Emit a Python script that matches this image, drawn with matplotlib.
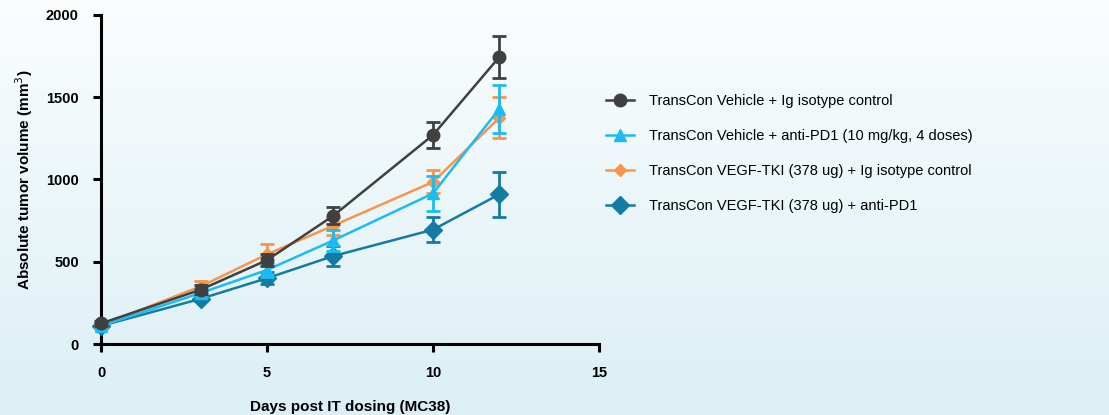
import matplotlib
matplotlib.use('Agg')
import matplotlib.pyplot as plt
from matplotlib.lines import Line2D
from matplotlib.colors import LinearSegmentedColormap
import numpy as np

plt.rcParams['font.family'] = ['Liberation Sans', 'DejaVu Sans']

days = [0, 3, 5, 7, 10, 12]
labels = ['TransCon Vehicle + Ig isotype control',
          'TransCon Vehicle + anti-PD1 (10 mg/kg, 4 doses)',
          'TransCon VEGF-TKI (378 ug) + Ig isotype control',
          'TransCon VEGF-TKI (378 ug) + anti-PD1']
veh_ig = [125, 330, 510, 780, 1270, 1745]
veh_ig_err = [15, 28, 35, 50, 80, 128]
veh_pd1 = [110, 310, 450, 630, 915, 1430]
veh_pd1_err = [12, 25, 40, 65, 105, 145]
tki_ig = [115, 350, 545, 720, 985, 1375]
tki_ig_err = [12, 35, 60, 55, 70, 125]
tki_pd1 = [110, 275, 400, 535, 695, 910]
tki_pd1_err = [10, 15, 35, 60, 75, 135]

colors = ['#404040', '#1cbcf2', '#f7964b', '#147ca3']
markers = ['o', '^', 'D', 'D']
msizes = [9, 9, 6.5, 9]

fig = plt.figure(figsize=(11.09, 4.15), dpi=100)
# fondo en degradado
bg = fig.add_axes([0, 0, 1, 1], zorder=-10)
grad = np.linspace(0, 1, 256).reshape(-1, 1)
cm = LinearSegmentedColormap.from_list('bg', ['#fbfdfe', '#dbeff5'])
bg.imshow(grad, aspect='auto', cmap=cm, extent=[0, 1, 0, 1])
bg.axis('off')

ax = fig.add_axes([0.0911, 0.171, 0.449, 0.793])
ax.patch.set_alpha(0)

series = [(veh_ig, veh_ig_err), (veh_pd1, veh_pd1_err), (tki_ig, tki_ig_err), (tki_pd1, tki_pd1_err)]
zord = [6, 5, 4, 3]
for i, (y, e) in enumerate(series):
    ax.errorbar(days, y, yerr=e, color=colors[i], marker=markers[i], ms=msizes[i],
                lw=1.8, elinewidth=2, capsize=5, capthick=2, zorder=zord[i], clip_on=False)

ax.set_xlim(0, 15)
ax.set_ylim(0, 2000)
ax.set_xticks([0, 5, 10, 15])
ax.set_yticks([0, 500, 1000, 1500, 2000])
ax.spines['top'].set_visible(False)
ax.spines['right'].set_visible(False)
for s in ['left', 'bottom']:
    ax.spines[s].set_linewidth(2.2)
ax.tick_params(width=2.2, length=6, labelsize=10.5, pad=10)
for t in ax.get_xticklabels() + ax.get_yticklabels():
    t.set_fontweight('bold')
ax.set_xlabel('Days post IT dosing (MC38)', fontsize=11, fontweight='bold', labelpad=14)
ax.set_ylabel('Absolute tumor volume (mm$^3$)', fontsize=11, fontweight='bold', labelpad=8)

handles = [Line2D([], [], color=colors[i], marker=markers[i], ms=msizes[i], lw=1.8) for i in range(4)]
fig.legend(handles, labels, loc='upper left', bbox_to_anchor=(0.535, 0.806), frameon=False,
           fontsize=10.5, labelspacing=1.45, handlelength=1.9, handletextpad=1.0)

fig.savefig('out.png', dpi=100)
